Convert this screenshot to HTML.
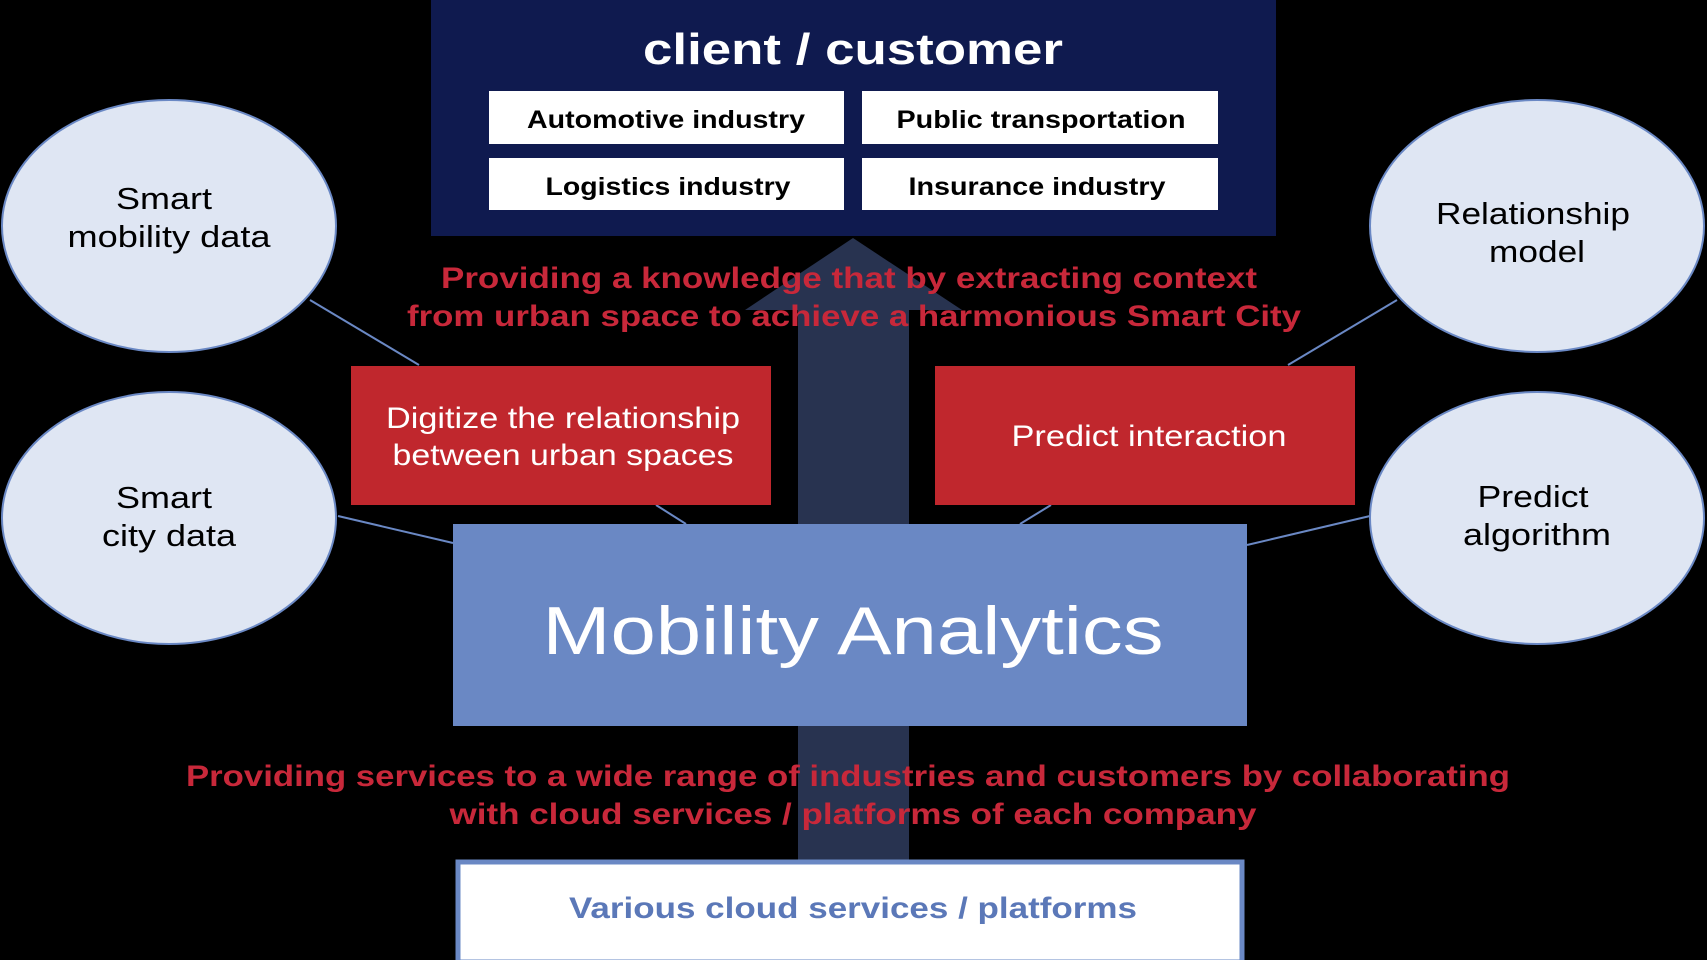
<!DOCTYPE html>
<html><head><meta charset="utf-8"><style>
html,body{margin:0;padding:0;background:#000;}
svg{display:block;}
text{font-family:"Liberation Sans",sans-serif;}
</style></head><body>
<svg width="1707" height="960" viewBox="0 0 1707 960" xmlns="http://www.w3.org/2000/svg">
<rect width="1707" height="960" fill="#000"/>
<rect x="798" y="300" width="111" height="562" fill="#283350"/>
<polygon points="853,238 745,310 962,310" fill="#283350"/>
<rect x="431" y="0" width="845" height="236" fill="#0f1a4f"/>
<text x="853" y="64" text-anchor="middle" font-size="44" font-weight="bold" fill="#fff" textLength="420" lengthAdjust="spacingAndGlyphs">client / customer</text>
<rect x="489" y="91" width="355" height="53" fill="#fff"/>
<rect x="862" y="91" width="356" height="53" fill="#fff"/>
<rect x="489" y="158" width="355" height="52" fill="#fff"/>
<rect x="862" y="158" width="356" height="52" fill="#fff"/>
<g font-size="25" font-weight="bold" fill="#000" text-anchor="middle" lengthAdjust="spacingAndGlyphs">
<text x="666" y="128" textLength="278" lengthAdjust="spacingAndGlyphs">Automotive industry</text>
<text x="1041" y="128" textLength="289" lengthAdjust="spacingAndGlyphs">Public transportation</text>
<text x="668" y="195" textLength="245" lengthAdjust="spacingAndGlyphs">Logistics industry</text>
<text x="1037" y="195" textLength="257" lengthAdjust="spacingAndGlyphs">Insurance industry</text>
</g>
<g font-size="30" font-weight="bold" fill="#c8283a" text-anchor="middle">
<text x="849" y="288" textLength="816" lengthAdjust="spacingAndGlyphs">Providing a knowledge that by extracting context</text>
<text x="854" y="326" textLength="894" lengthAdjust="spacingAndGlyphs">from urban space to achieve a harmonious Smart City</text>
<text x="848" y="786" textLength="1324" lengthAdjust="spacingAndGlyphs">Providing services to a wide range of industries and customers by collaborating</text>
<text x="853" y="824" textLength="807" lengthAdjust="spacingAndGlyphs">with cloud services / platforms of each company</text>
</g>
<g stroke="#6a88c4" stroke-width="2">
<line x1="310" y1="300" x2="419" y2="365"/>
<line x1="338" y1="516" x2="453" y2="543"/>
<line x1="656" y1="505" x2="686" y2="524"/>
<line x1="1397" y1="300" x2="1288" y2="365"/>
<line x1="1370" y1="516" x2="1247" y2="545"/>
<line x1="1051" y1="505" x2="1020" y2="524"/>
</g>
<rect x="351" y="366" width="420" height="139" fill="#c0272d"/>
<rect x="935" y="366" width="420" height="139" fill="#c0272d"/>
<g font-size="30" fill="#fff" text-anchor="middle">
<text x="563" y="428" textLength="354" lengthAdjust="spacingAndGlyphs">Digitize the relationship</text>
<text x="563" y="465" textLength="341" lengthAdjust="spacingAndGlyphs">between urban spaces</text>
<text x="1149" y="446" textLength="275" lengthAdjust="spacingAndGlyphs">Predict interaction</text>
</g>
<rect x="453" y="524" width="794" height="202" fill="#6a88c4"/>
<text x="853" y="654" text-anchor="middle" font-size="68" fill="#fff" textLength="621" lengthAdjust="spacingAndGlyphs">Mobility Analytics</text>
<g fill="#dfe6f3" stroke="#6a88c4" stroke-width="2">
<ellipse cx="169" cy="226" rx="167" ry="126"/>
<ellipse cx="169" cy="518" rx="167" ry="126"/>
<ellipse cx="1537" cy="226" rx="167" ry="126"/>
<ellipse cx="1537" cy="518" rx="167" ry="126"/>
</g>
<g font-size="31" fill="#000" text-anchor="middle">
<text x="164" y="209" textLength="96" lengthAdjust="spacingAndGlyphs">Smart</text>
<text x="169" y="247" textLength="203" lengthAdjust="spacingAndGlyphs">mobility data</text>
<text x="164" y="508" textLength="96" lengthAdjust="spacingAndGlyphs">Smart</text>
<text x="169" y="546" textLength="134" lengthAdjust="spacingAndGlyphs">city data</text>
<text x="1533" y="224" textLength="194" lengthAdjust="spacingAndGlyphs">Relationship</text>
<text x="1537" y="262" textLength="96" lengthAdjust="spacingAndGlyphs">model</text>
<text x="1533" y="507" textLength="111" lengthAdjust="spacingAndGlyphs">Predict</text>
<text x="1537" y="545" textLength="148" lengthAdjust="spacingAndGlyphs">algorithm</text>
</g>
<rect x="458" y="862" width="784" height="100" fill="#fff" stroke="#6a88c4" stroke-width="5"/>
<text x="853" y="918" text-anchor="middle" font-size="30" font-weight="bold" fill="#5b78b8" textLength="568" lengthAdjust="spacingAndGlyphs">Various cloud services / platforms</text>
</svg>
</body></html>
